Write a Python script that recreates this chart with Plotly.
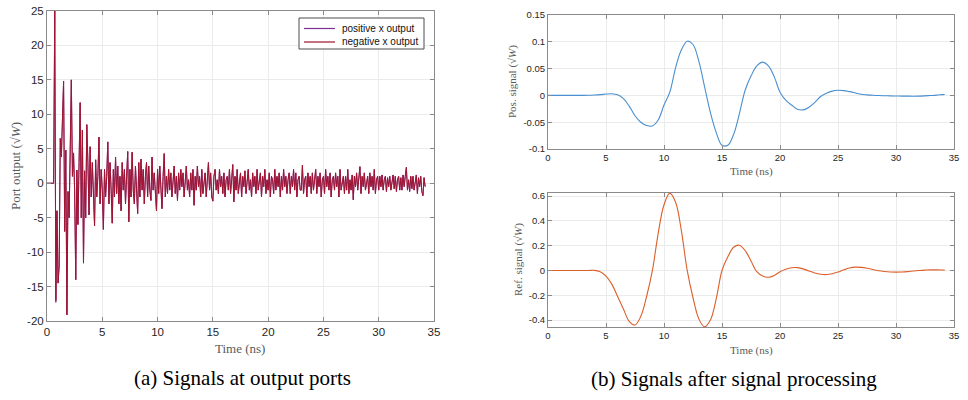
import numpy as np
import plotly.graph_objects as go

# ---------------- data ----------------
# (a) port outputs, sampled every 0.1 ns from 0 ns (one row per ns)
negative_x_output = (
    [0, 0, 0, 0, 0, 0, 0, 25, -17, -4] +
    [-14.5, -12, 6.5, 3.8, 11.3, 14.8, -7, 4.8, -19.1, -1.2] +
    [-5, 6, 15, 1, 4.4, -1, -14, 1.9, -6, 3] +
    [11.7, -5, 7.7, -11.6, 1.8, -5, 8.5, 3, -4.6, 5.3] +
    [-2, 3, -1, -6.2, 3.4, -2, 1, 6.7, -3, 2] +
    [-1, -6.7, 2, -2, 1, 6.0, -3, 3, -1, -5.8] +
    [2, -2, 3.8, -1.5, 2.5, -3, 1, -4, 3, -1] +
    [2, -3, 1, 4.6, -5.6, 2, -2, 4.5, -1, -3] +
    [2.5, -1, -4.4, 3, -2, 3.5, -1, 2, -3, 1] +
    [3, -2, 2.5, -1, -2.5, 3.8, -1, 1.5, -2, -4] +
    [2, -1.5, 2.5, -1, -3.7, 1, 4.3, -2, 1, -1.5] +
    [2, -1, 1.5, -2, 0.5, 2.5, -1.5, 1, -2.5, 1.5] +
    [-1, 2, -0.5, 1.5, -2, 1, 2.5, -1, 0.5, -2] +
    [1.5, -1, 2, -3.2, 1, -1, 2.5, -0.5, 1, -2] +
    [2, -1.5, 0.5, 1.5, -2, 1, 3, -1, 1.5, -2] +
    [-2.6, 1, 2, -1, 0.5, -1.5, 2, -0.5, 1, -1.5] +
    [1.5, -2, 0.5, 1, -1, 2, -1.5, 0.5, 2.7, -2.7] +
    [1, -1, 2, -1.5, 0.5, 1.5, -2, 1, -0.5, 1.8] +
    [-1.5, 1, 2, -1, 0.5, -2, 1.5, -0.5, 1, -1.5] +
    [2, -1, 0.5, 1.5, -2, 1, -0.5, 2, -1.5, 0.5] +
    [-1, 1.5, -2, 1, 0.5, -1.5, 2, -1, 1, -0.5] +
    [1.5, -2, 1, -1, 2, -0.5, 1, -1.5, 0.5, 1.5] +
    [-1.5, 1, -0.5, 2, -1, 1.5, -2, 0.5, 1, -1] +
    [-1, 2.6, -1.5, 0.5, 1, -2, 1.5, -0.5, 1, -1.5] +
    [1.5, -1, 0.5, 2, -1.5, 1, -0.5, 1.5, -2, 0.5] +
    [1, -1.5, 2, -0.5, 1, -1, 1.5, -2, 0.5, 1] +
    [-1, 1.5, -0.5, 1, -2, 2, -1, 0.5, 1, -1.5] +
    [1, -1, 2, -1.5, 0.5, -1, 1.2, -2.4, 1, -0.5] +
    [1.5, -1, 0.5, 2.4, -1.5, 1, -0.5, 1.5, -1, 0.5] +
    [1, -1.5, 1.5, -0.5, 1, -1, 2, -1.5, 0.5, 1] +
    [-1, 1, -0.5, 1.2, -1, 0.5, 1, -1.2, 0.8, -0.5] +
    [1, -1, 0.5, 1.2, -0.8, 1, -1.2, 0.5, 1, -1] +
    [0.8, -1, 1.2, -0.5, 1, 2.3, -1, 0.5, -1.2, 1] +
    [-0.8, 1, -1, 0.5, 1.2, -1.5, 0.8, -0.5, 1, -1.2] +
    [-1.8, 0.8, -0.5]
)
positive_x_output = list(negative_x_output)
positive_x_output[8] = -17.3
time_a = np.arange(len(negative_x_output)) * 0.1

# (b) processed signals, sampled every 0.5 ns
time_b = [0, 0.5, 1, 1.5, 2, 2.5, 3, 3.5, 4, 4.5, 5, 5.5, 6, 6.5, 7, 7.5, 8, 8.5,
          9, 9.5, 10, 10.5, 11, 11.5, 12, 12.5, 13, 13.5, 14, 14.5, 15, 15.5,
          16, 16.5, 17, 17.5, 18, 18.5, 19, 19.5, 20, 20.5, 21, 21.5, 22, 22.5,
          23, 23.5, 24, 24.5, 25, 25.5, 26, 26.5, 27, 27.5, 28, 28.5, 29, 29.5,
          30, 30.5, 31, 31.5, 32, 32.5, 33, 33.5, 34, 34.2]
pos_signal = [0, 0, 0, 0, 0, 0, 0, 0.0003, 0.0008, 0.0015, 0.0025, 0.003, 0.001,
              -0.006, -0.02, -0.038, -0.05, -0.056, -0.057, -0.046, -0.018, 0.006,
              0.052, 0.085, 0.101, 0.095, 0.064, 0.016, -0.032, -0.069, -0.093,
              -0.093, -0.073, -0.034, 0.01, 0.036, 0.055, 0.062, 0.055, 0.035,
              0.006, -0.009, -0.018, -0.026, -0.027, -0.022, -0.013, -0.002,
              0.004, 0.008, 0.0095, 0.009, 0.007, 0.0045, 0.002, 0.001, 0.0003,
              -0.0003, -0.0006, -0.0009, -0.0011, -0.0013, -0.0014, -0.0015,
              -0.0013, -0.0008, -0.0002, 0.0005, 0.0015, 0.0018]
ref_signal = [0, 0, 0, 0, 0, 0, 0, 0, 0.001, -0.01, -0.045, -0.11, -0.21, -0.31,
              -0.41, -0.44, -0.37, -0.21, 0.0, 0.3, 0.53, 0.624, 0.55, 0.32, 0.0,
              -0.22, -0.39, -0.455, -0.4, -0.23, 0.0, 0.11, 0.187, 0.204, 0.16,
              0.077, -0.01, -0.045, -0.055, -0.04, -0.01, 0.01, 0.022, 0.023, 0.013,
              -0.005, -0.02, -0.03, -0.033, -0.027, -0.013, 0.005, 0.02, 0.027,
              0.025, 0.018, 0.008, -0.002, -0.008, -0.012, -0.013, -0.012, -0.009,
              -0.004, 0.0, 0.003, 0.005, 0.005, 0.004, 0.003]

x_ticks = [0, 5, 10, 15, 20, 25, 30, 35]
ya_ticks = [-20, -15, -10, -5, 0, 5, 10, 15, 20, 25]
ya_text = ["-20", "-15", "-10", "-5", "0", "5", "10", "15", "20", "25"]
yb1_ticks = [-0.1, -0.05, 0, 0.05, 0.1, 0.15]
yb1_text = ["-0.1", "-0.05", "0", "0.05", "0.1", "0.15"]
yb2_ticks = [-0.4, -0.2, 0, 0.2, 0.4, 0.6]
yb2_text = ["-0.4", "-0.2", "0", "0.2", "0.4", "0.6"]
legend_names = ["positive x output", "negative x output"]
legend_colors = ["#7E2F8E", "#A2142F"]

# ---------------- figure ----------------
W, H = 968, 400
def px_x(p):
    return p / W
def px_y(p):
    return 1 - p / H

AX_COL = "#8a8a8a"
def axis(size, **kw):
    d = dict(showline=True, linecolor=AX_COL, linewidth=1, mirror="allticks",
             ticks="inside", ticklen=4, tickcolor=AX_COL, showgrid=True,
             gridcolor="#ebebeb", gridwidth=1, zeroline=False, automargin=False,
             tickfont=dict(family="Liberation Sans, Arial", size=size, color="#262626"))
    d.update(kw)
    return d

fig = go.Figure()
fig.add_trace(go.Scatter(x=time_a, y=positive_x_output, mode="lines",
                         name=legend_names[0], line=dict(color=legend_colors[0], width=1),
                         xaxis="x", yaxis="y"))
fig.add_trace(go.Scatter(x=time_a, y=negative_x_output, mode="lines",
                         name=legend_names[1], line=dict(color=legend_colors[1], width=1),
                         xaxis="x", yaxis="y"))
fig.add_trace(go.Scatter(x=time_b, y=pos_signal, mode="lines",
                         line=dict(color="#4a8fd0", width=1.1, shape="spline"),
                         xaxis="x2", yaxis="y2"))
fig.add_trace(go.Scatter(x=time_b, y=ref_signal, mode="lines",
                         line=dict(color="#DC5F2A", width=1.1, shape="spline"),
                         xaxis="x3", yaxis="y3"))

fig.update_layout(
    width=W, height=H, margin=dict(l=0, r=0, t=0, b=0, autoexpand=False),
    paper_bgcolor="white", plot_bgcolor="white", showlegend=False,
    xaxis=axis(11.5, domain=[px_x(47), px_x(434)], range=[0, 35], tickvals=x_ticks,
               anchor="y"),
    yaxis=axis(11.5, domain=[px_y(321), px_y(11)], range=[-20, 25], tickvals=ya_ticks,
               ticktext=ya_text, anchor="x"),
    xaxis2=axis(9.5, domain=[px_x(548), px_x(954)], range=[0, 35], tickvals=x_ticks,
                anchor="y2"),
    yaxis2=axis(9.5, domain=[px_y(149), px_y(15)], range=[-0.1, 0.15],
                tickvals=yb1_ticks, ticktext=yb1_text, anchor="x2"),
    xaxis3=axis(9.5, domain=[px_x(548), px_x(954)], range=[0, 35], tickvals=x_ticks,
                anchor="y3"),
    yaxis3=axis(9.5, domain=[px_y(327), px_y(193)], range=[-0.456, 0.625],
                tickvals=yb2_ticks, ticktext=yb2_text, anchor="x3"),
)

serif = "Liberation Serif, Times New Roman, serif"
ann = []
def label(text, x, y, size, angle=0, color="#5a5a5a", xanchor="center", family=serif):
    ann.append(dict(text=text, x=px_x(x), y=px_y(y), xref="paper", yref="paper",
                    showarrow=False, textangle=angle, xanchor=xanchor, yanchor="middle",
                    font=dict(family=family, size=size, color=color)))

label("Time (ns)", 240, 348, 13)
label("Port output (√<i>W</i>)", 15, 166, 13, angle=-90)
label("Time (ns)", 751, 172, 11)
label("Pos. signal (√<i>W</i>)", 513, 82, 11, angle=-90)
label("Time (ns)", 751, 350, 11)
label("Ref. signal (√<i>W</i>)", 518, 260, 11, angle=-90)
label("(a) Signals at output ports", 242, 378, 21, color="#000000")
label("(b) Signals after signal processing", 734, 379, 21, color="#000000")

# legend drawn in the upper-right corner of panel (a)
shapes = [dict(type="rect", xref="paper", yref="paper", x0=px_x(299), x1=px_x(424),
               y0=px_y(49), y1=px_y(18), line=dict(color="#4d4d4d", width=1),
               fillcolor="white", layer="above")]
for i, (nm, col) in enumerate(zip(legend_names, legend_colors)):
    yy = 28.5 + i * 13.5
    shapes.append(dict(type="line", xref="paper", yref="paper", x0=px_x(304), x1=px_x(335),
                       y0=px_y(yy), y1=px_y(yy), line=dict(color=col, width=1.2),
                       layer="above"))
    label(nm, 340, yy, 10, color="#111111", xanchor="left",
          family="Liberation Sans, Arial")

fig.update_layout(annotations=ann, shapes=shapes)

fig.write_html("out.html", config={"displayModeBar": False},
               post_script="document.body.style.margin='0';"
                           "document.body.style.overflow='hidden';")
